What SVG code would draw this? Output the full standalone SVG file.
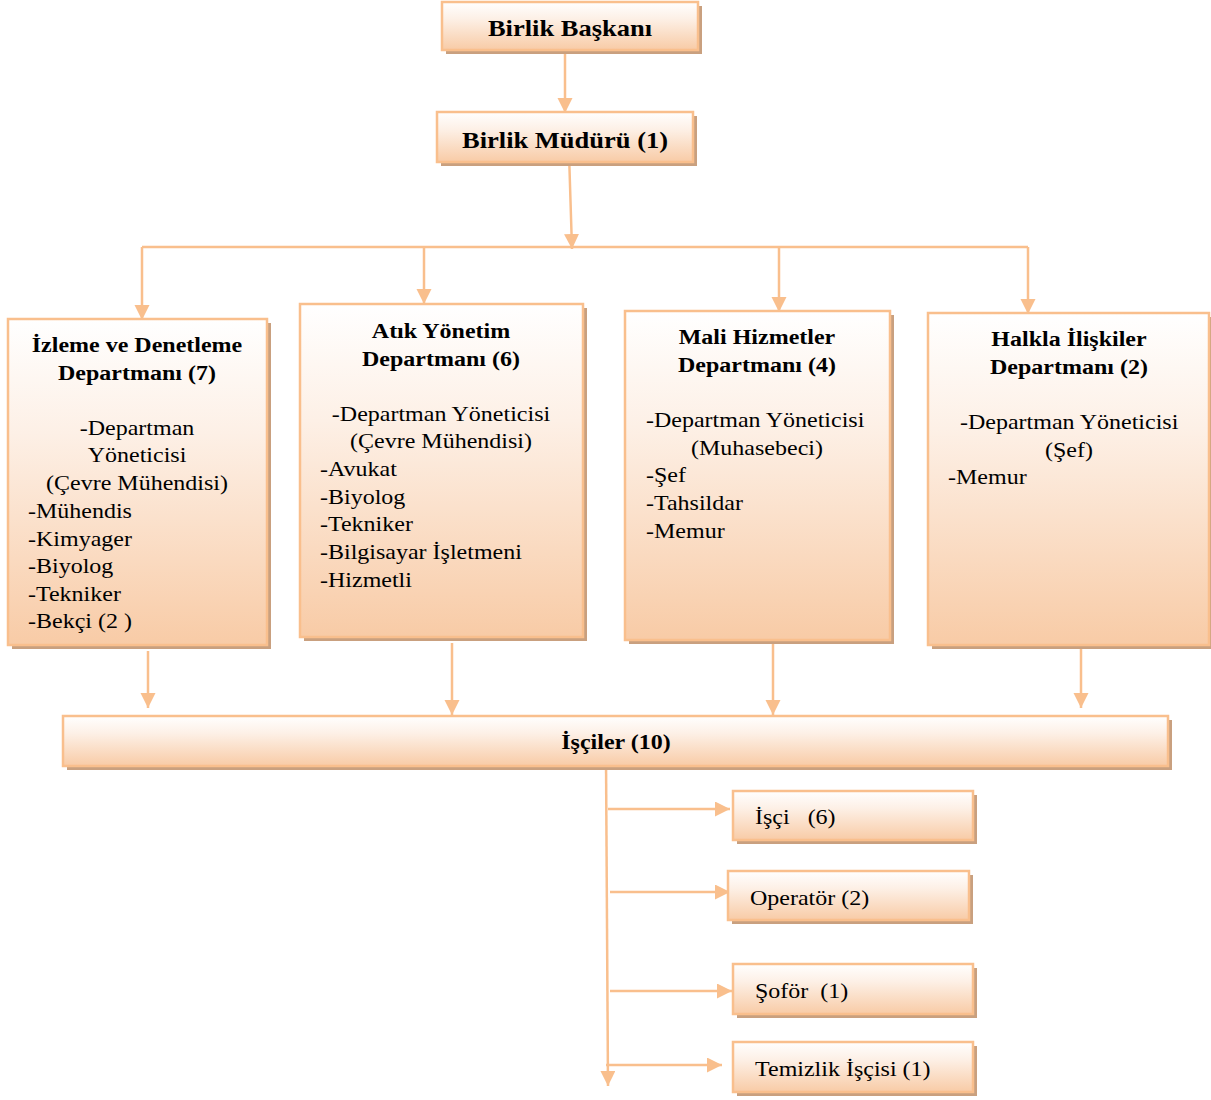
<svg xmlns="http://www.w3.org/2000/svg" width="1211" height="1100" viewBox="0 0 1211 1100">
<defs>
<linearGradient id="g" x1="0" y1="0" x2="0" y2="1">
<stop offset="0" stop-color="#ffffff"/>
<stop offset="0.35" stop-color="#fdf0e6"/>
<stop offset="1" stop-color="#f8cba6"/>
</linearGradient>
<marker id="ah" markerUnits="userSpaceOnUse" markerWidth="16" markerHeight="16" refX="15" refY="7.5" orient="auto">
<path d="M0,0 L15,7.5 L0,15 z" fill="#f9bf8d"/>
</marker>
<style>
.box{fill:url(#g);stroke:#f9bf8d;stroke-width:2.5}
.sh{fill:#c9a07f}
.c{stroke:#f9bf8d;stroke-width:2.5;fill:none}
.ca{stroke:#f9bf8d;stroke-width:2.5;fill:none;marker-end:url(#ah)}
text{font-family:"Liberation Serif","Times New Roman",serif;fill:#000}
.h1{font-size:26.5px;font-weight:bold;text-anchor:middle}
.h2{font-size:24px;font-weight:bold;text-anchor:middle}
.b{font-size:24px}
.bm{font-size:24px;text-anchor:middle}
</style>
</defs>
<g id="connectors">
<line class="ca" x1="565" y1="52" x2="565" y2="113"/>
<line class="ca" x1="569" y1="153" x2="572" y2="249"/>
<line class="c" x1="142" y1="247" x2="1028" y2="247"/>
<line class="ca" x1="142" y1="247" x2="142" y2="320"/>
<line class="ca" x1="424" y1="247" x2="424" y2="304"/>
<line class="ca" x1="779" y1="247" x2="779" y2="312"/>
<line class="ca" x1="1028" y1="247" x2="1028" y2="314"/>
<line class="ca" x1="148" y1="651" x2="148" y2="708"/>
<line class="ca" x1="452" y1="643" x2="452" y2="715"/>
<line class="ca" x1="773" y1="643" x2="773" y2="715"/>
<line class="ca" x1="1081" y1="635" x2="1081" y2="708"/>
<line class="ca" x1="606" y1="758" x2="608" y2="1086"/>
<line class="ca" x1="608" y1="809" x2="730" y2="809"/>
<line class="ca" x1="610" y1="892" x2="730" y2="892"/>
<line class="ca" x1="610" y1="991" x2="732" y2="991"/>
<line class="ca" x1="606" y1="1065" x2="722" y2="1065"/>
</g>
<g id="baskan">
<rect class="sh" x="446" y="6" width="256" height="48"/>
<rect class="box" x="442" y="2" width="256" height="48"/>
<text class="h1" transform="translate(570,36) scale(1,0.85)">Birlik Başkanı</text>
</g>
<g id="mudur">
<rect class="sh" x="441" y="116" width="256" height="50"/>
<rect class="box" x="437" y="112" width="256" height="50"/>
<text class="h1" transform="translate(565,148) scale(1,0.85)">Birlik Müdürü (1)</text>
</g>
<g id="izleme">
<rect class="sh" x="12" y="323" width="259" height="326"/>
<rect class="box" x="8" y="319" width="259" height="326"/>
<text class="h2" transform="translate(137,352) scale(1,0.85)">İzleme ve Denetleme</text>
<text class="h2" transform="translate(137,380) scale(1,0.85)">Departmanı (7)</text>
<text class="bm" transform="translate(137,435) scale(1,0.85)">-Departman</text>
<text class="bm" transform="translate(137,462) scale(1,0.85)">Yöneticisi</text>
<text class="bm" transform="translate(137,490) scale(1,0.85)">(Çevre Mühendisi)</text>
<text class="b" transform="translate(28,518) scale(1,0.85)">-Mühendis</text>
<text class="b" transform="translate(28,546) scale(1,0.85)">-Kimyager</text>
<text class="b" transform="translate(28,573) scale(1,0.85)">-Biyolog</text>
<text class="b" transform="translate(28,601) scale(1,0.85)">-Tekniker</text>
<text class="b" transform="translate(28,628) scale(1,0.85)">-Bekçi (2 )</text>
</g>
<g id="atik">
<rect class="sh" x="304" y="308" width="283" height="333"/>
<rect class="box" x="300" y="304" width="283" height="333"/>
<text class="h2" transform="translate(441,338) scale(1,0.85)">Atık Yönetim</text>
<text class="h2" transform="translate(441,366) scale(1,0.85)">Departmanı (6)</text>
<text class="bm" transform="translate(441,421) scale(1,0.85)">-Departman Yöneticisi</text>
<text class="bm" transform="translate(441,448) scale(1,0.85)">(Çevre Mühendisi)</text>
<text class="b" transform="translate(320,476) scale(1,0.85)">-Avukat</text>
<text class="b" transform="translate(320,504) scale(1,0.85)">-Biyolog</text>
<text class="b" transform="translate(320,531) scale(1,0.85)">-Tekniker</text>
<text class="b" transform="translate(320,559) scale(1,0.85)">-Bilgisayar İşletmeni</text>
<text class="b" transform="translate(320,587) scale(1,0.85)">-Hizmetli</text>
</g>
<g id="mali">
<rect class="sh" x="629" y="315" width="265" height="329"/>
<rect class="box" x="625" y="311" width="265" height="329"/>
<text class="h2" transform="translate(757,344) scale(1,0.85)">Mali Hizmetler</text>
<text class="h2" transform="translate(757,372) scale(1,0.85)">Departmanı (4)</text>
<text class="b" transform="translate(646,427) scale(1,0.85)">-Departman Yöneticisi</text>
<text class="bm" transform="translate(757,455) scale(1,0.85)">(Muhasebeci)</text>
<text class="b" transform="translate(646,482) scale(1,0.85)">-Şef</text>
<text class="b" transform="translate(646,510) scale(1,0.85)">-Tahsildar</text>
<text class="b" transform="translate(646,538) scale(1,0.85)">-Memur</text>
</g>
<g id="halkla">
<rect class="sh" x="932" y="317" width="282" height="332"/>
<rect class="box" x="928" y="313" width="281" height="332"/>
<text class="h2" transform="translate(1069,346) scale(1,0.85)">Halkla İlişkiler</text>
<text class="h2" transform="translate(1069,374) scale(1,0.85)">Departmanı (2)</text>
<text class="b" transform="translate(960,429) scale(1,0.85)">-Departman Yöneticisi</text>
<text class="bm" transform="translate(1069,457) scale(1,0.85)">(Şef)</text>
<text class="b" transform="translate(948,484) scale(1,0.85)">-Memur</text>
</g>
<g id="isciler">
<rect class="sh" x="67" y="720" width="1105" height="50"/>
<rect class="box" x="63" y="716" width="1105" height="50"/>
<text class="h2" transform="translate(616,749) scale(1,0.85)">İşçiler (10)</text>
</g>
<g id="isci">
<rect class="sh" x="737" y="795" width="240" height="49"/>
<rect class="box" x="733" y="791" width="240" height="49"/>
<text class="b" transform="translate(755,824) scale(1,0.85)" xml:space="preserve">İşçi   (6)</text>
</g>
<g id="operator">
<rect class="sh" x="732" y="875" width="241" height="49"/>
<rect class="box" x="728" y="871" width="241" height="49"/>
<text class="b" transform="translate(750,905) scale(1,0.85)">Operatör (2)</text>
</g>
<g id="sofor">
<rect class="sh" x="737" y="968" width="240" height="50"/>
<rect class="box" x="733" y="964" width="240" height="50"/>
<text class="b" transform="translate(755,998) scale(1,0.85)" xml:space="preserve">Şoför  (1)</text>
</g>
<g id="temizlik">
<rect class="sh" x="737" y="1046" width="240" height="50"/>
<rect class="box" x="733" y="1042" width="240" height="50"/>
<text class="b" transform="translate(755,1076) scale(1,0.85)">Temizlik İşçisi (1)</text>
</g>
</svg>
